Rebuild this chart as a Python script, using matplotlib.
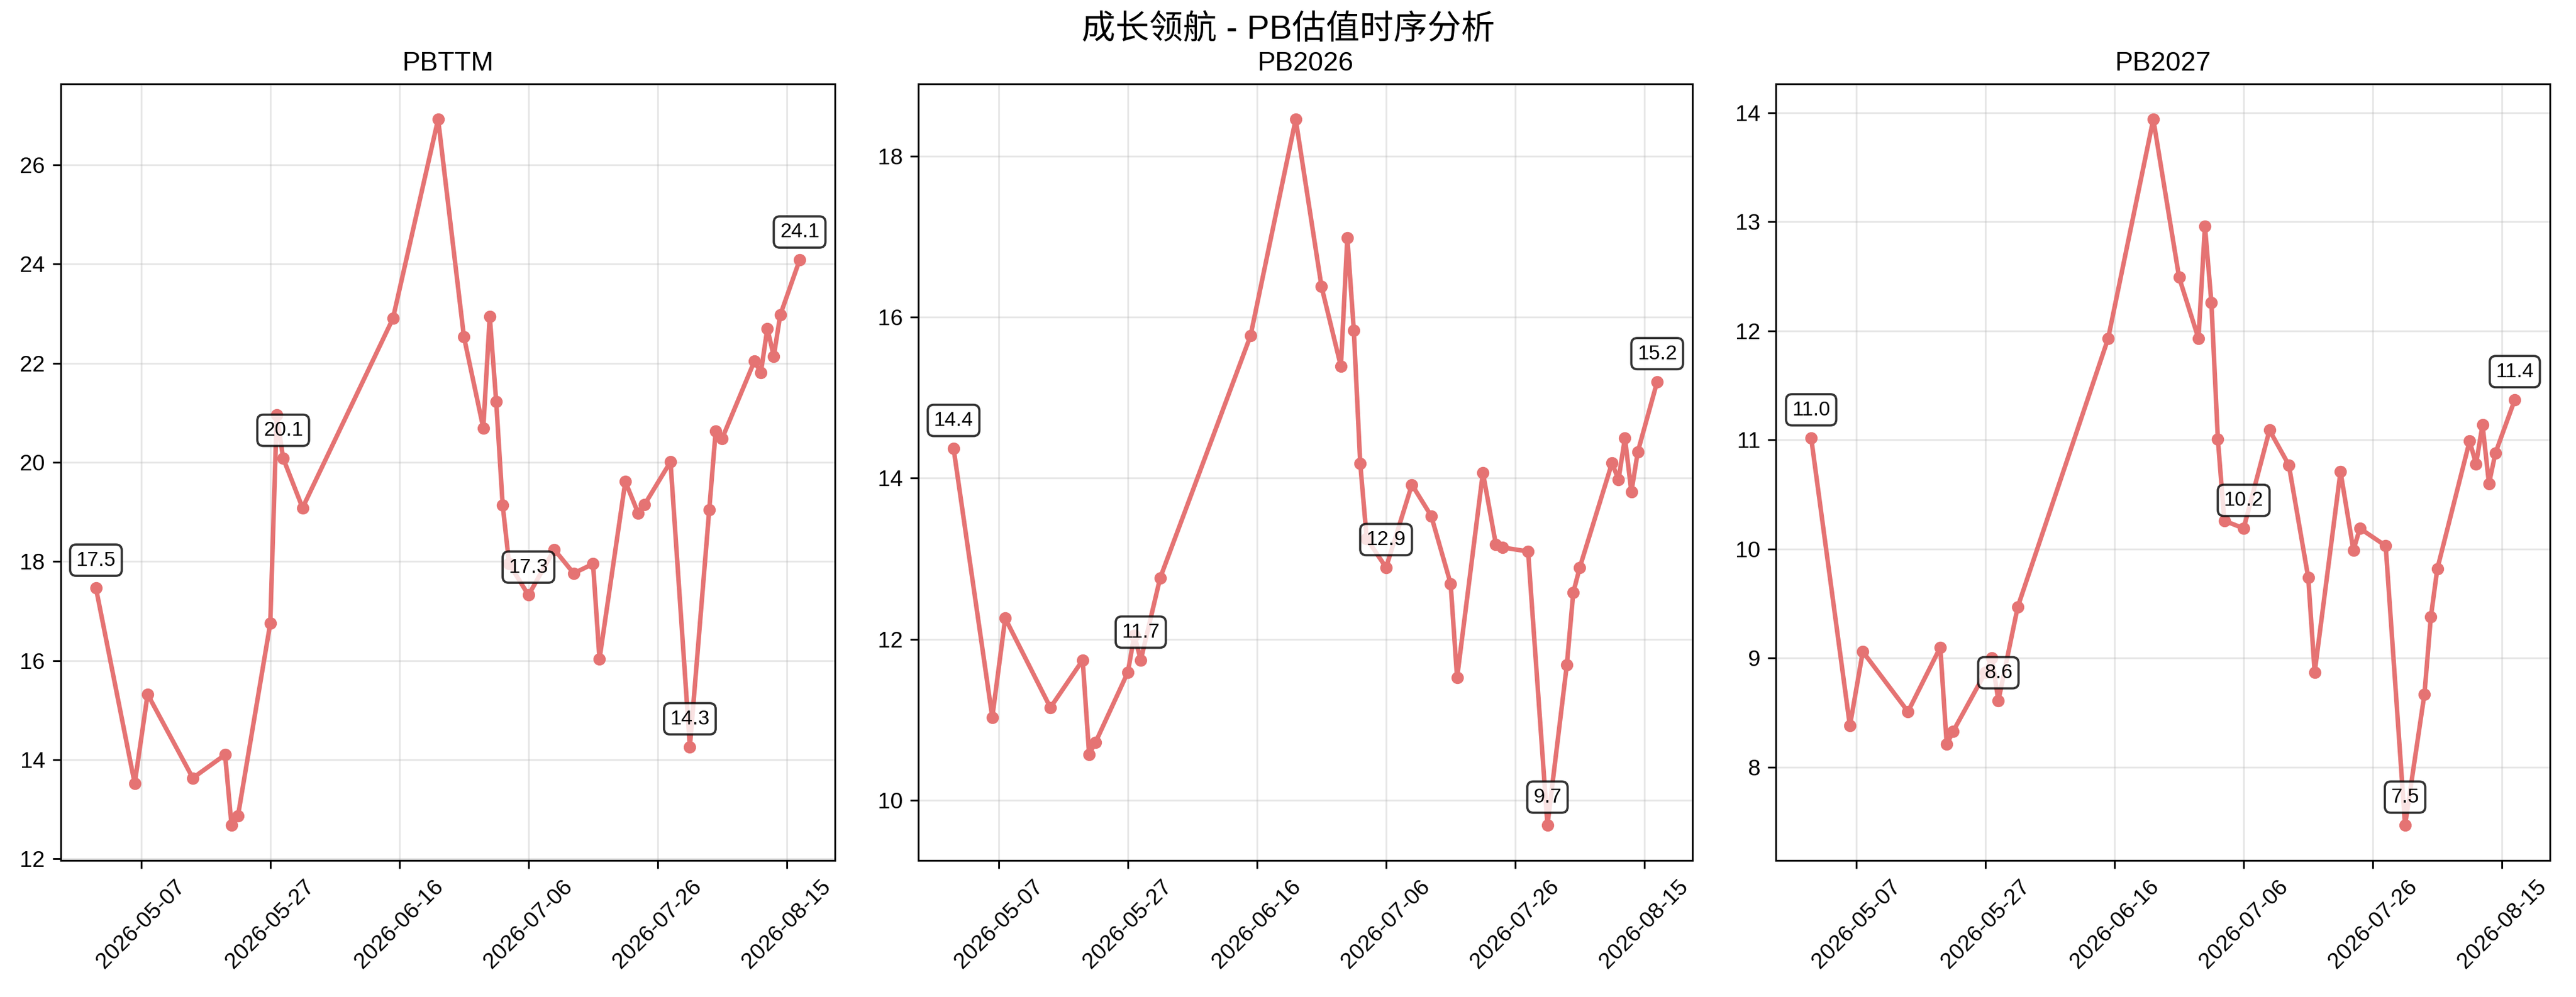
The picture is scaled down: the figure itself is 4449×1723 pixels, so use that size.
import matplotlib
matplotlib.use('Agg')
import matplotlib.pyplot as plt
import matplotlib.dates as mdates
from matplotlib.ticker import MultipleLocator
import pandas as pd

plt.rcParams['font.family'] = ['Liberation Sans', 'Noto Sans CJK SC', 'DejaVu Sans']
plt.rcParams['axes.unicode_minus'] = False

title = '成长领航 - PB估值时序分析'
metrics = ['PBTTM', 'PB2026', 'PB2027']

dates = pd.to_datetime([
    '2026-04-30', '2026-05-06', '2026-05-08', '2026-05-15', '2026-05-20', '2026-05-21',
    '2026-05-22', '2026-05-27', '2026-05-28', '2026-05-29', '2026-06-01', '2026-06-15',
    '2026-06-22', '2026-06-26', '2026-06-29', '2026-06-30', '2026-07-01', '2026-07-02',
    '2026-07-03', '2026-07-06', '2026-07-10', '2026-07-13', '2026-07-16', '2026-07-17',
    '2026-07-21', '2026-07-23', '2026-07-24', '2026-07-28', '2026-07-31', '2026-08-03',
    '2026-08-04', '2026-08-05', '2026-08-10', '2026-08-11', '2026-08-12', '2026-08-13',
    '2026-08-14', '2026-08-17'])

pbttm = [17.46, 13.52, 15.32, 13.63, 14.10, 12.68, 12.87, 16.75, 20.95, 20.08,
         19.08, 22.90, 26.92, 22.53, 20.69, 22.94, 21.22, 19.14, 17.95, 17.32,
         18.24, 17.76, 17.95, 16.03, 19.61, 18.97, 19.15, 20.01, 14.26, 19.04,
         20.63, 20.48, 22.04, 21.81, 22.70, 22.14, 22.97, 24.08]

pb2026 = [14.37, 11.03, 12.26, 11.15, 11.74, 10.57, 10.72, 11.59, 12.05, 11.74,
          12.76, 15.77, 18.46, 16.38, 15.39, 16.99, 15.84, 14.18, 13.25, 12.89,
          13.92, 13.53, 12.69, 11.52, 14.07, 13.18, 13.14, 13.09, 9.69, 11.68,
          12.58, 12.89, 14.19, 13.98, 14.50, 13.83, 14.33, 15.20]

pb2027 = [11.02, 8.38, 9.06, 8.51, 9.10, 8.21, 8.33, 8.87, 9.00, 8.61,
          9.47, 11.93, 13.94, 12.49, 11.93, 12.96, 12.26, 11.01, 10.26, 10.19,
          11.09, 10.77, 9.74, 8.87, 10.71, 9.99, 10.19, 10.03, 7.47, 8.67,
          9.38, 9.82, 10.99, 10.78, 11.14, 10.60, 10.88, 11.37]

label_idx = [0, 9, 19, 28, 37]  # points with value boxes

series = [pbttm, pb2026, pb2027]
line_color = '#e57373'

dpi = 280
fig, axes = plt.subplots(1, 3, figsize=(4449 / dpi, 1723 / dpi), dpi=dpi)
fig.subplots_adjust(left=0.0236, right=0.9899, top=0.9158, bottom=0.137, wspace=0.108)

for ax, name, vals in zip(axes, metrics, series):
    ax.plot(dates, vals, color=line_color, linewidth=2, marker='o', markersize=4.5)
    for i in label_idx:
        ax.annotate(f'{vals[i]:.1f}', (dates[i], vals[i]), xytext=(0, 10),
                    textcoords='offset points', ha='center', fontsize=9,
                    bbox=dict(boxstyle='round,pad=0.3', facecolor='white', alpha=0.8))
    ax.set_title(name, fontsize=12)
    ax.grid(True, alpha=0.3)
    ax.xaxis.set_major_locator(MultipleLocator(20))
    ax.xaxis.set_major_formatter(mdates.DateFormatter('%Y-%m-%d'))
    ax.tick_params(axis='x', rotation=45)

fig.suptitle(title, fontsize=15, y=0.970, va='center')

fig.savefig('out.png', dpi=dpi)
